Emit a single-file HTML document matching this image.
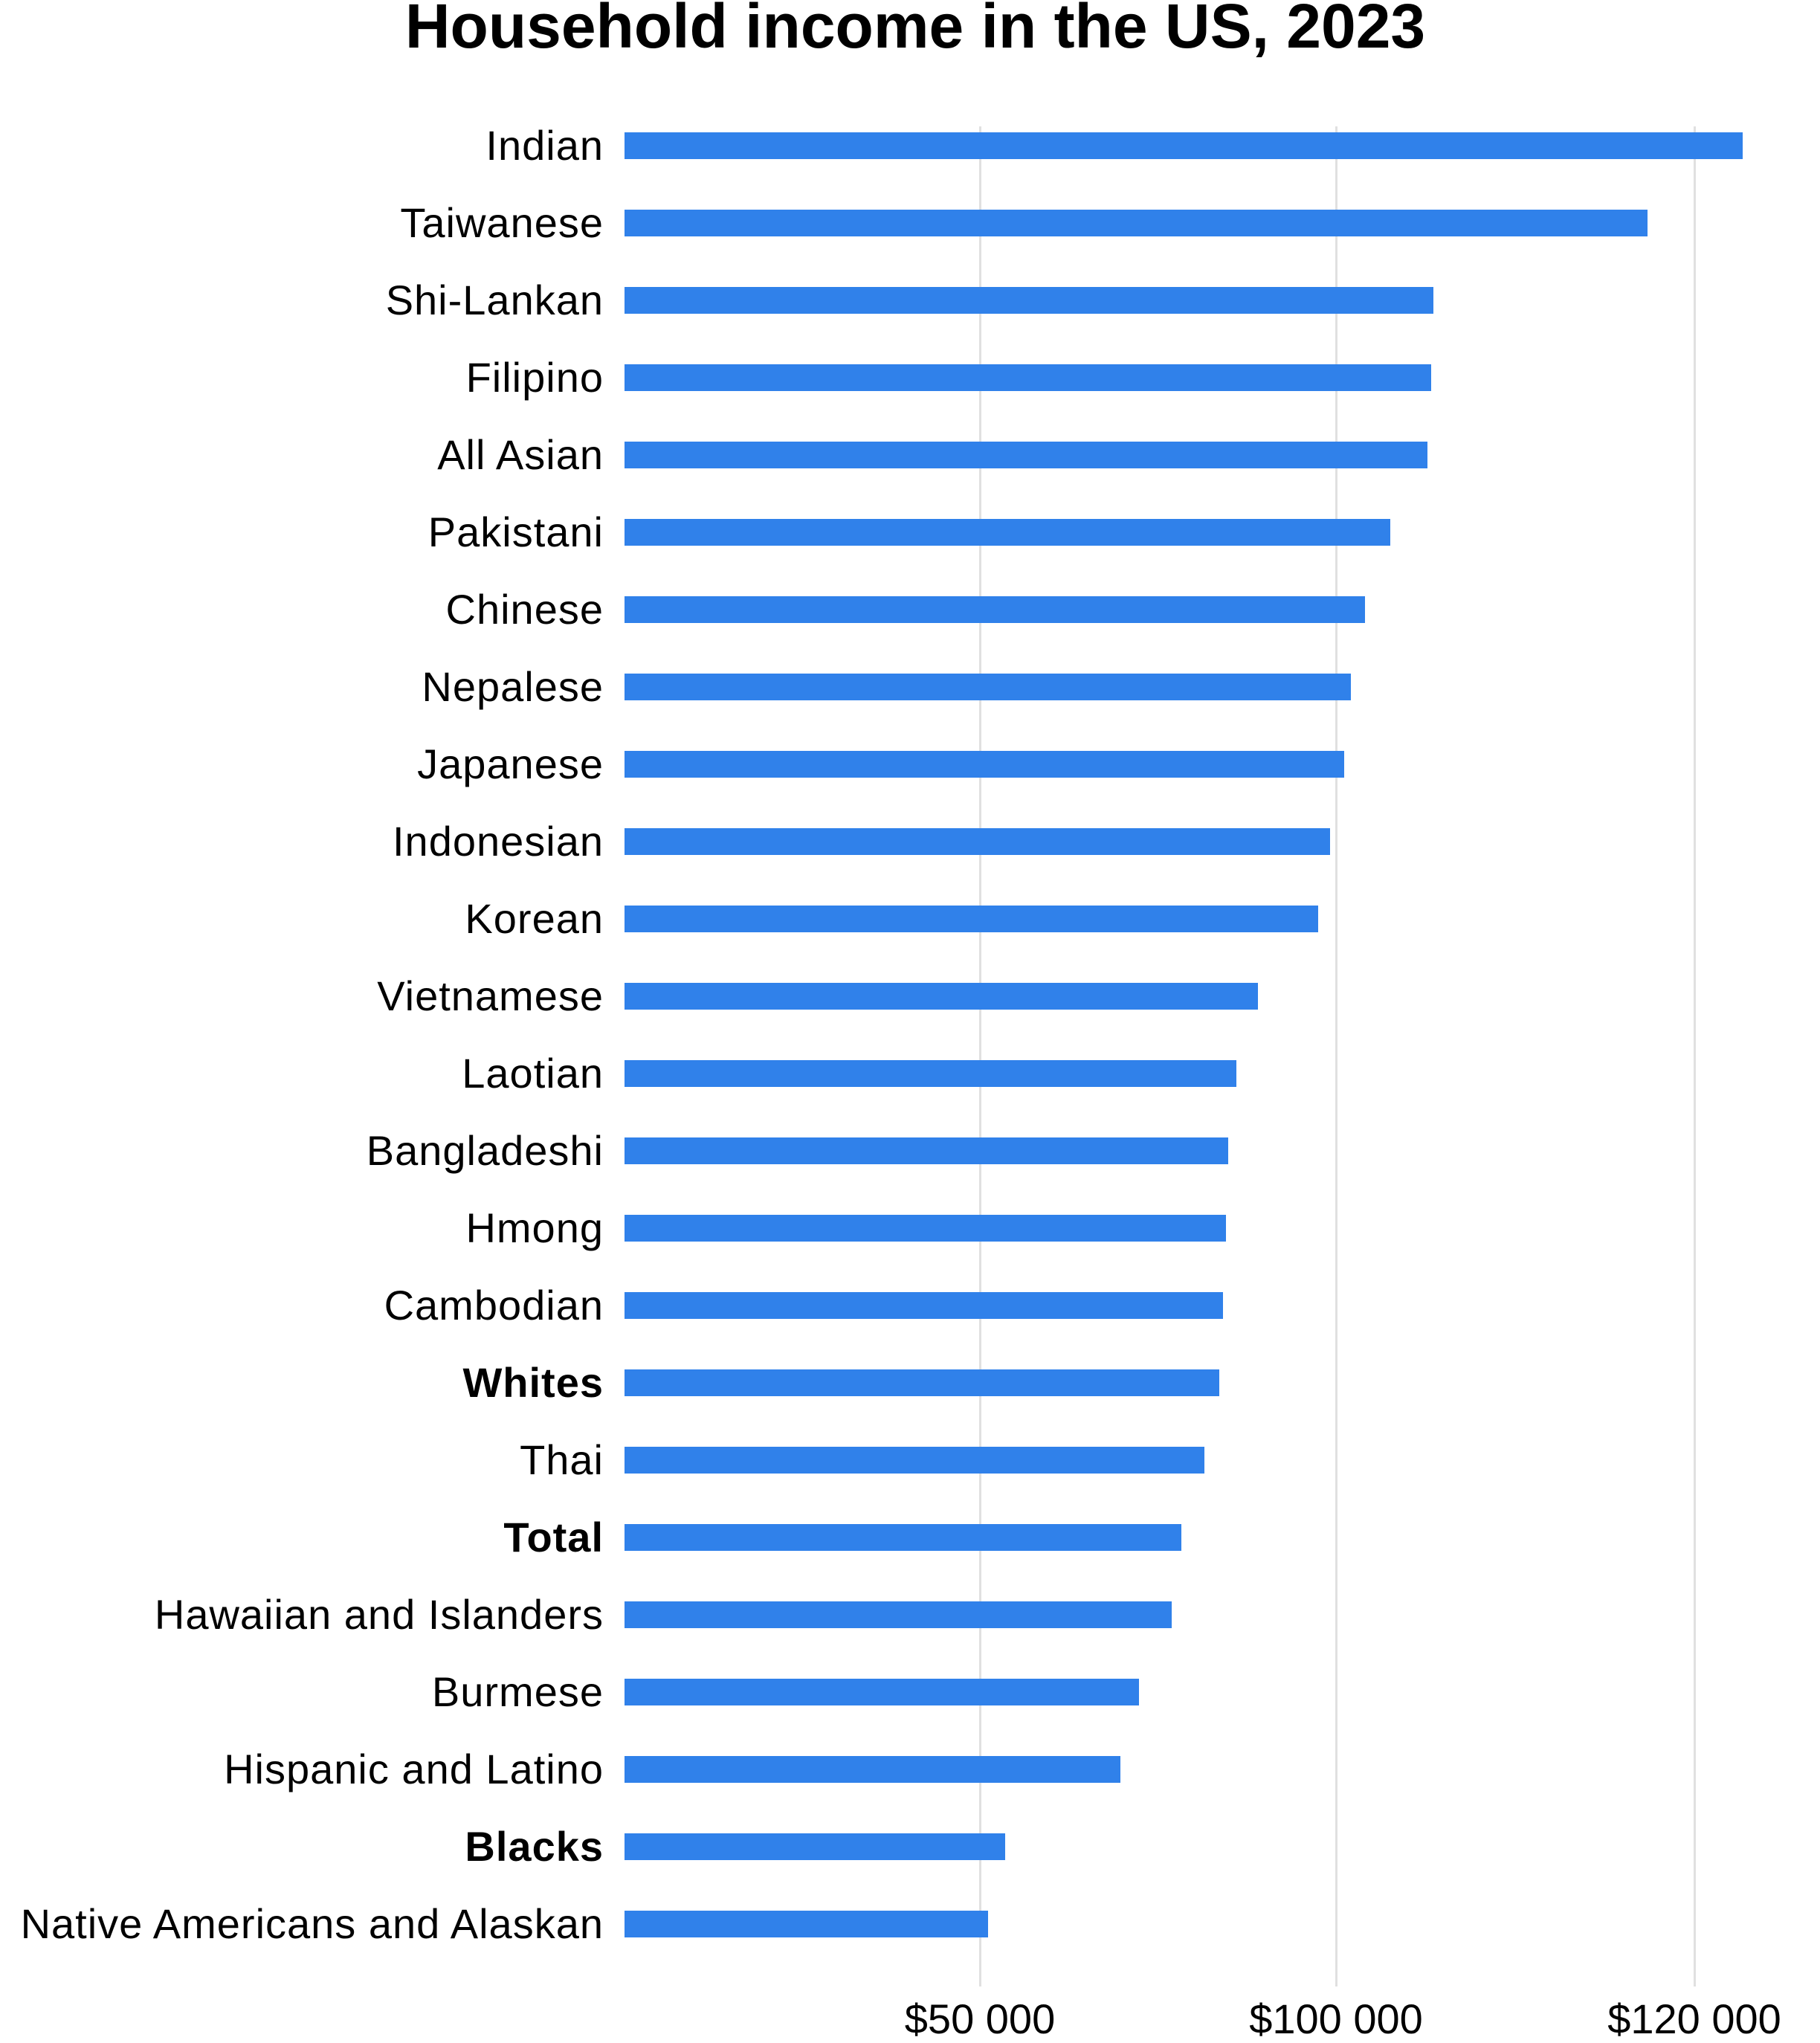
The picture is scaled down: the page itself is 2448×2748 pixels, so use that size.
<!DOCTYPE html>
<html><head><meta charset="utf-8"><style>
html,body{margin:0;padding:0;background:#fff;}
body{width:2448px;height:2748px;position:relative;overflow:hidden;font-family:"Liberation Sans","DejaVu Sans",sans-serif;color:#000;}
.t{position:absolute;left:0;width:2462px;top:-10px;text-align:center;font-size:84px;font-weight:bold;line-height:90px;}
.g{position:absolute;top:170px;height:2502px;width:3px;background:#e0e0e0;}
.b{position:absolute;left:840px;height:36px;background:#3081ea;}
.l{position:absolute;right:1636px;font-size:56px;letter-spacing:1px;line-height:60px;white-space:nowrap;text-align:right;}
.x{position:absolute;top:2686px;font-size:56px;line-height:60px;width:400px;text-align:center;}
</style></head><body>
<div class="t">Household income in the US, 2023</div>
<div class="g" style="left:1317px"></div>
<div class="g" style="left:1796px"></div>
<div class="g" style="left:2278px"></div>
<div id="c"></div>
<script>
var d=[["Indian",2355],["Taiwanese",2226],["Shi-Lankan",1937],["Filipino",1934],["All Asian",1929],["Pakistani",1878],["Chinese",1844],["Nepalese",1825],["Japanese",1816],["Indonesian",1797],["Korean",1781],["Vietnamese",1700],["Laotian",1671],["Bangladeshi",1659],["Hmong",1656],["Cambodian",1652],["Whites",1647,1],["Thai",1627],["Total",1596,1],["Hawaiian and Islanders",1583],["Burmese",1539],["Hispanic and Latino",1514],["Blacks",1358,1],["Native Americans and Alaskan",1335]];
var h="";
d.forEach(function(r,i){var y=178+i*104;var e=Math.round(r[1]*0.9955);
h+='<div class="b" style="top:'+y+'px;width:'+(e-840)+'px"></div>';
h+='<div class="l" style="top:'+(y-12)+'px;'+(r[2]?'font-weight:bold;':'')+'">'+r[0]+'</div>';});
document.getElementById("c").innerHTML=h;
</script>
<div class="x" style="left:1118px">$50 000</div>
<div class="x" style="left:1597px">$100 000</div>
<div class="x" style="left:2079px">$120 000</div>
</body></html>
